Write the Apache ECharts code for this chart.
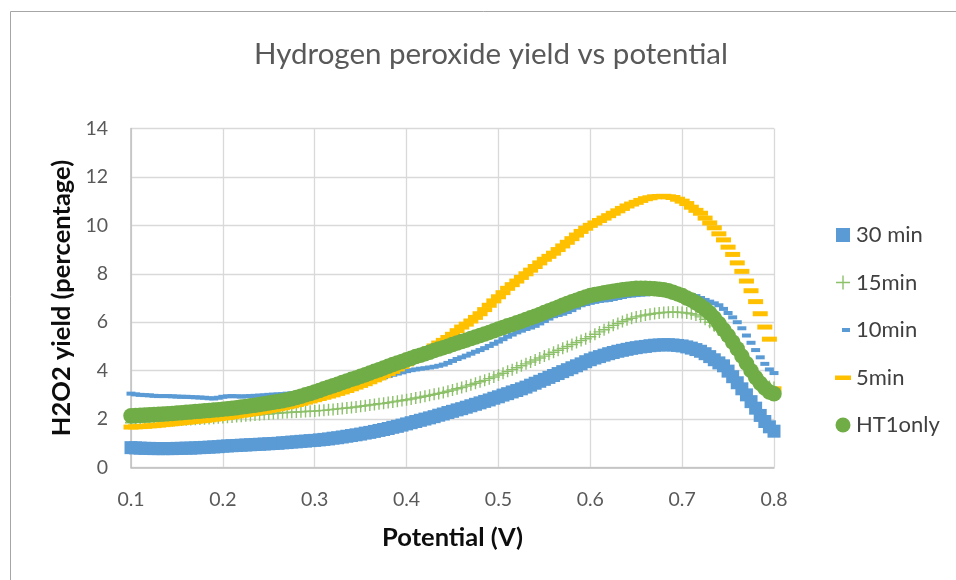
<!DOCTYPE html>
<html>
<head>
<meta charset="utf-8">
<title>Hydrogen peroxide yield vs potential</title>
<script src="https://cdn.jsdelivr.net/npm/echarts@6/dist/echarts.min.js"></script>
<style>
  html, body { margin: 0; padding: 0; background: #ffffff; }
  #chart { width: 956px; height: 580px; }
</style>
</head>
<body>
<div id="chart"></div>
<script>
// Potential (V), sampled every 5 mV
const potential = [
  0.100, 0.105, 0.110, 0.115, 0.120, 0.125, 0.130, 0.135, 0.140, 0.145,
  0.150, 0.155, 0.160, 0.165, 0.170, 0.175, 0.180, 0.185, 0.190, 0.195,
  0.200, 0.205, 0.210, 0.215, 0.220, 0.225, 0.230, 0.235, 0.240, 0.245,
  0.250, 0.255, 0.260, 0.265, 0.270, 0.275, 0.280, 0.285, 0.290, 0.295,
  0.300, 0.305, 0.310, 0.315, 0.320, 0.325, 0.330, 0.335, 0.340, 0.345,
  0.350, 0.355, 0.360, 0.365, 0.370, 0.375, 0.380, 0.385, 0.390, 0.395,
  0.400, 0.405, 0.410, 0.415, 0.420, 0.425, 0.430, 0.435, 0.440, 0.445,
  0.450, 0.455, 0.460, 0.465, 0.470, 0.475, 0.480, 0.485, 0.490, 0.495,
  0.500, 0.505, 0.510, 0.515, 0.520, 0.525, 0.530, 0.535, 0.540, 0.545,
  0.550, 0.555, 0.560, 0.565, 0.570, 0.575, 0.580, 0.585, 0.590, 0.595,
  0.600, 0.605, 0.610, 0.615, 0.620, 0.625, 0.630, 0.635, 0.640, 0.645,
  0.650, 0.655, 0.660, 0.665, 0.670, 0.675, 0.680, 0.685, 0.690, 0.695,
  0.700, 0.705, 0.710, 0.715, 0.720, 0.725, 0.730, 0.735, 0.740, 0.745,
  0.750, 0.755, 0.760, 0.765, 0.770, 0.775, 0.780, 0.785, 0.790, 0.795,
  0.800
];

// H2O2 yield (%) for each sample
const yield30min = [
  0.82, 0.81, 0.80, 0.79, 0.79, 0.78, 0.78, 0.78, 0.78, 0.78,
  0.79, 0.79, 0.80, 0.80, 0.81, 0.82, 0.83, 0.84, 0.85, 0.86,
  0.88, 0.89, 0.90, 0.91, 0.92, 0.93, 0.94, 0.95, 0.96, 0.97,
  0.98, 0.99, 1.00, 1.02, 1.03, 1.05, 1.06, 1.08, 1.09, 1.11,
  1.12, 1.14, 1.16, 1.18, 1.21, 1.23, 1.26, 1.29, 1.32, 1.35,
  1.38, 1.42, 1.45, 1.49, 1.53, 1.57, 1.61, 1.66, 1.70, 1.75,
  1.80, 1.85, 1.90, 1.95, 2.00, 2.05, 2.10, 2.16, 2.21, 2.27,
  2.32, 2.38, 2.43, 2.49, 2.55, 2.61, 2.67, 2.73, 2.79, 2.86,
  2.92, 2.99, 3.05, 3.12, 3.18, 3.25, 3.32, 3.40, 3.48, 3.56,
  3.64, 3.72, 3.80, 3.88, 3.96, 4.04, 4.12, 4.20, 4.28, 4.37,
  4.45, 4.52, 4.58, 4.64, 4.70, 4.75, 4.80, 4.84, 4.88, 4.92,
  4.95, 4.98, 5.00, 5.03, 5.05, 5.06, 5.07, 5.07, 5.06, 5.04,
  5.02, 4.98, 4.93, 4.87, 4.80, 4.70, 4.58, 4.45, 4.32, 4.20,
  3.98, 3.75, 3.50, 3.25, 3.00, 2.72, 2.45, 2.15, 1.90, 1.68,
  1.50
];

const yield15min = [
  1.85, 1.86, 1.87, 1.88, 1.89, 1.90, 1.91, 1.92, 1.93, 1.94,
  1.95, 1.96, 1.97, 1.98, 1.99, 2.00, 2.01, 2.02, 2.03, 2.05,
  2.06, 2.08, 2.09, 2.11, 2.12, 2.14, 2.15, 2.17, 2.18, 2.20,
  2.21, 2.23, 2.24, 2.26, 2.27, 2.28, 2.29, 2.30, 2.31, 2.32,
  2.33, 2.35, 2.36, 2.38, 2.40, 2.42, 2.44, 2.46, 2.48, 2.50,
  2.53, 2.55, 2.58, 2.60, 2.63, 2.65, 2.68, 2.71, 2.74, 2.77,
  2.80, 2.83, 2.87, 2.90, 2.94, 2.98, 3.02, 3.06, 3.10, 3.15,
  3.20, 3.25, 3.30, 3.36, 3.42, 3.48, 3.54, 3.60, 3.67, 3.74,
  3.82, 3.89, 3.97, 4.04, 4.12, 4.20, 4.28, 4.36, 4.44, 4.52,
  4.60, 4.68, 4.76, 4.84, 4.92, 5.00, 5.08, 5.16, 5.24, 5.32,
  5.40, 5.50, 5.60, 5.69, 5.78, 5.87, 5.95, 6.03, 6.10, 6.16,
  6.22, 6.26, 6.30, 6.33, 6.36, 6.38, 6.40, 6.41, 6.42, 6.41,
  6.40, 6.38, 6.35, 6.30, 6.22, 6.12, 6.00, 5.85, 5.68, 5.48,
  5.25, 5.00, 4.75, 4.50, 4.25, 4.00, 3.78, 3.60, 3.45, 3.35,
  3.30
];

const yield10min = [
  3.05, 3.02, 3.00, 2.99, 2.98, 2.96, 2.95, 2.95, 2.95, 2.94,
  2.93, 2.92, 2.92, 2.91, 2.90, 2.89, 2.88, 2.86, 2.85, 2.88,
  2.92, 2.94, 2.95, 2.94, 2.93, 2.94, 2.95, 2.96, 2.97, 2.98,
  3.00, 3.01, 3.02, 3.03, 3.05, 3.06, 3.08, 3.10, 3.12, 3.15,
  3.18, 3.21, 3.24, 3.27, 3.30, 3.33, 3.36, 3.40, 3.44, 3.48,
  3.52, 3.56, 3.60, 3.64, 3.68, 3.73, 3.78, 3.83, 3.88, 3.93,
  3.98, 4.02, 4.05, 4.08, 4.10, 4.13, 4.16, 4.20, 4.25, 4.32,
  4.40, 4.48, 4.55, 4.62, 4.70, 4.78, 4.85, 4.93, 5.02, 5.11,
  5.20, 5.30, 5.40, 5.49, 5.58, 5.65, 5.72, 5.78, 5.85, 5.95,
  6.05, 6.15, 6.25, 6.30, 6.35, 6.42, 6.50, 6.60, 6.70, 6.75,
  6.80, 6.84, 6.88, 6.90, 6.92, 6.96, 7.00, 7.04, 7.08, 7.10,
  7.12, 7.14, 7.15, 7.17, 7.18, 7.19, 7.20, 7.19, 7.18, 7.17,
  7.15, 7.15, 7.12, 7.08, 7.00, 6.92, 6.85, 6.78, 6.70, 6.55,
  6.38, 6.20, 6.00, 5.75, 5.45, 5.15, 4.85, 4.55, 4.28, 4.05,
  3.90
];

const yield5min = [
  1.67, 1.68, 1.69, 1.70, 1.72, 1.73, 1.75, 1.77, 1.79, 1.81,
  1.83, 1.85, 1.87, 1.89, 1.91, 1.93, 1.95, 1.97, 2.00, 2.02,
  2.05, 2.07, 2.10, 2.13, 2.16, 2.19, 2.22, 2.25, 2.29, 2.32,
  2.36, 2.39, 2.43, 2.47, 2.51, 2.55, 2.60, 2.65, 2.70, 2.75,
  2.80, 2.85, 2.90, 2.95, 3.00, 3.06, 3.12, 3.18, 3.25, 3.32,
  3.39, 3.46, 3.54, 3.62, 3.70, 3.79, 3.88, 3.97, 4.07, 4.17,
  4.28, 4.40, 4.52, 4.65, 4.78, 4.90, 5.02, 5.14, 5.25, 5.37,
  5.50, 5.65, 5.80, 5.92, 6.05, 6.20, 6.35, 6.52, 6.70, 6.88,
  7.05, 7.22, 7.40, 7.55, 7.70, 7.85, 8.00, 8.15, 8.30, 8.45,
  8.60, 8.72, 8.85, 9.00, 9.15, 9.30, 9.45, 9.60, 9.75, 9.88,
  10.00, 10.10, 10.20, 10.30, 10.40, 10.50, 10.60, 10.70, 10.80, 10.88,
  10.95, 11.03, 11.10, 11.14, 11.18, 11.19, 11.20, 11.18, 11.15, 11.08,
  11.00, 10.90, 10.75, 10.62, 10.50, 10.30, 10.10, 9.90, 9.65, 9.40,
  9.10, 8.80, 8.45, 8.10, 7.70, 7.30, 6.85, 6.35, 5.80, 5.30,
  3.25
];

const yieldHT1only = [
  2.14, 2.15, 2.16, 2.17, 2.18, 2.19, 2.20, 2.21, 2.22, 2.23,
  2.25, 2.26, 2.28, 2.29, 2.31, 2.32, 2.34, 2.35, 2.37, 2.39,
  2.41, 2.43, 2.45, 2.47, 2.50, 2.52, 2.55, 2.57, 2.60, 2.63,
  2.66, 2.69, 2.73, 2.76, 2.80, 2.84, 2.89, 2.94, 3.00, 3.06,
  3.12, 3.18, 3.25, 3.31, 3.38, 3.44, 3.51, 3.57, 3.64, 3.70,
  3.77, 3.83, 3.90, 3.97, 4.04, 4.11, 4.18, 4.25, 4.32, 4.38,
  4.45, 4.51, 4.58, 4.64, 4.70, 4.76, 4.83, 4.89, 4.95, 5.01,
  5.08, 5.14, 5.20, 5.26, 5.33, 5.39, 5.45, 5.51, 5.58, 5.65,
  5.72, 5.78, 5.85, 5.91, 5.98, 6.04, 6.11, 6.18, 6.25, 6.32,
  6.40, 6.47, 6.55, 6.62, 6.70, 6.77, 6.85, 6.91, 6.98, 7.04,
  7.10, 7.14, 7.18, 7.22, 7.25, 7.28, 7.31, 7.34, 7.36, 7.38,
  7.40, 7.40, 7.40, 7.39, 7.38, 7.36, 7.34, 7.30, 7.24, 7.17,
  7.10, 7.00, 6.92, 6.80, 6.68, 6.55, 6.38, 6.18, 5.95, 5.70,
  5.45, 5.18, 4.90, 4.60, 4.30, 4.00, 3.72, 3.48, 3.28, 3.12,
  3.05
];

const seriesNames = ['30 min', '15min', '10min', '5min', 'HT1only'];
const xTicks = [0.1, 0.2, 0.3, 0.4, 0.5, 0.6, 0.7, 0.8];
const yTicks = [0, 2, 4, 6, 8, 10, 12, 14];

const BLUE = '#5b9bd5';
const GREEN = '#70ad47';
const PLUS_GREEN = '#8cc16a';
const GOLD = '#ffc000';

// Plus marker; the leading moves pin the bounding box so the cross keeps its proportions
const PLUS_PATH = 'path://M0,0M12,12M5.3,0h1.4v5.3h5.3v1.4h-5.3v5.3h-1.4v-5.3h-5.3v-1.4h5.3z';
const LEGEND_PLUS = 'path://M0,0M16,16M7.3,1h1.4v6.3h6.3v1.4h-6.3v6.3h-1.4v-6.3h-6.3v-1.4h6.3z';
const LEGEND_SMALL_DASH = 'path://M0,0M16,16M7,6h8v4h-8z';
const LEGEND_DASH = 'path://M0,0M16,16M0,6h16v4.5h-16z';
const LEGEND_SQUARE = 'path://M0,0M16,16M1,1h14v14h-14z';
const LEGEND_CIRCLE = 'path://M0,0M16,16M8,0.5a7.5,7.5 0 1,0 0.01,0z';

function pairs(values) {
  return potential.map(function (p, i) { return [p, values[i]]; });
}

const chart = echarts.init(document.getElementById('chart'), null, { renderer: 'canvas' });

const FONT = 'Lato, "Open Sans", "Noto Sans", sans-serif';

chart.setOption({
  animation: false,
  backgroundColor: '#ffffff',
  textStyle: { fontFamily: FONT },
  title: {
    text: 'Hydrogen peroxide yield vs potential',
    left: 249,
    top: 34,
    textStyle: { fontFamily: FONT, fontSize: 29.5, fontWeight: 'normal', color: '#595959' }
  },
  graphic: [{
    type: 'rect',
    silent: true,
    z: -1,
    shape: { x: 10.5, y: 11.5, width: 960, height: 600 },
    style: { fill: 'none', stroke: '#a6a6a6', lineWidth: 1 }
  }],
  legend: {
    orient: 'vertical',
    left: 830,
    top: 217,
    itemWidth: 16,
    itemHeight: 16,
    itemGap: 21.5,
    textStyle: { fontFamily: FONT, fontSize: 22, lineHeight: 26, color: '#404040' },
    data: [
      { name: '30 min', icon: LEGEND_SQUARE, itemStyle: { color: BLUE } },
      { name: '15min', icon: LEGEND_PLUS, itemStyle: { color: PLUS_GREEN } },
      { name: '10min', icon: LEGEND_SMALL_DASH, itemStyle: { color: BLUE } },
      { name: '5min', icon: LEGEND_DASH, itemStyle: { color: GOLD } },
      { name: 'HT1only', icon: LEGEND_CIRCLE, itemStyle: { color: GREEN } }
    ]
  },
  grid: { left: 131, right: 182, top: 128.5, bottom: 112.5, containLabel: false },
  xAxis: {
    type: 'value',
    min: xTicks[0],
    max: xTicks[xTicks.length - 1],
    interval: 0.1,
    name: 'Potential (V)',
    nameLocation: 'middle',
    nameGap: 57,
    nameTextStyle: { fontFamily: FONT, fontSize: 25.5, fontWeight: 'bold', color: '#0d0d0d' },
    axisLine: { show: true, lineStyle: { color: '#bfbfbf', width: 1.5 } },
    axisTick: { show: false },
    axisLabel: {
      margin: 22,
      fontFamily: FONT,
      fontSize: 19.5,
      color: '#595959',
      formatter: function (v) { return v.toFixed(1); }
    },
    splitLine: { show: true, lineStyle: { color: '#d9d9d9', width: 1.3 } }
  },
  yAxis: {
    type: 'value',
    min: yTicks[0],
    max: yTicks[yTicks.length - 1],
    interval: 2,
    name: 'H2O2 yield (percentage)',
    nameLocation: 'middle',
    nameGap: 55,
    nameRotate: 90,
    nameTextStyle: { fontFamily: FONT, fontSize: 25.5, fontWeight: 'bold', color: '#0d0d0d' },
    axisLine: { show: true, lineStyle: { color: '#bfbfbf', width: 1.5 } },
    axisTick: { show: false },
    axisLabel: { margin: 23, fontFamily: FONT, fontSize: 19.5, color: '#595959' },
    splitLine: { show: true, lineStyle: { color: '#d9d9d9', width: 1.3 } }
  },
  series: [
    {
      name: seriesNames[0],
      type: 'scatter',
      data: pairs(yield30min),
      symbol: 'rect',
      symbolSize: 13,
      itemStyle: { color: BLUE, opacity: 1 },
      z: 2
    },
    {
      name: seriesNames[1],
      type: 'scatter',
      data: pairs(yield15min),
      symbol: PLUS_PATH,
      symbolSize: 12,
      itemStyle: { color: PLUS_GREEN, opacity: 1 },
      z: 3
    },
    {
      name: seriesNames[2],
      type: 'scatter',
      data: pairs(yield10min),
      symbol: 'rect',
      symbolSize: [9, 4],
      itemStyle: { color: BLUE, opacity: 1 },
      z: 4
    },
    {
      name: seriesNames[3],
      type: 'scatter',
      data: pairs(yield5min),
      symbol: 'rect',
      symbolSize: [15, 5],
      itemStyle: { color: GOLD, opacity: 1 },
      z: 5
    },
    {
      name: seriesNames[4],
      type: 'scatter',
      data: pairs(yieldHT1only),
      symbol: 'circle',
      symbolSize: 15.5,
      itemStyle: { color: GREEN, opacity: 1 },
      z: 6
    }
  ]
});
</script>
</body>
</html>
